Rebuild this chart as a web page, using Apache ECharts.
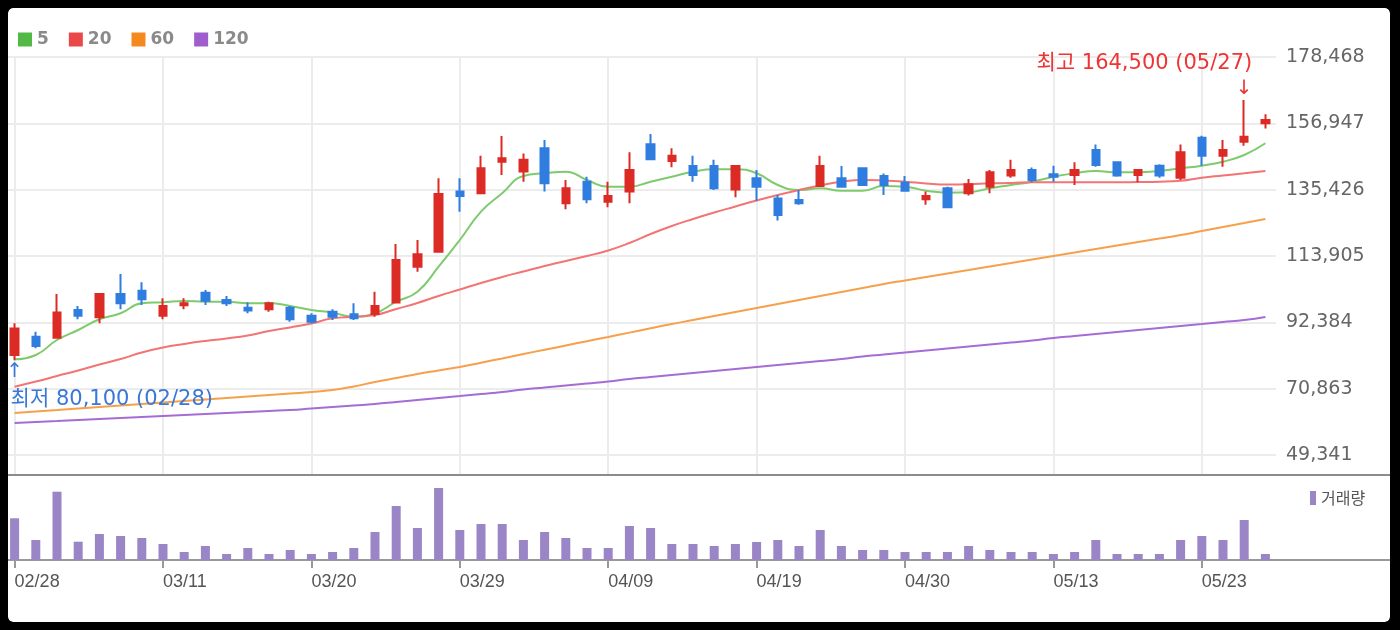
<!DOCTYPE html>
<html><head><meta charset="utf-8">
<script src="https://cdn.jsdelivr.net/npm/echarts@6/dist/echarts.min.js"></script>
<style>
html,body{margin:0;padding:0;background:#000;overflow:hidden;}
#wrap{position:absolute;left:0;top:0;width:1400px;height:630px;overflow:hidden;background:#000;}
#panel{position:absolute;left:8px;top:8px;width:1382px;height:614px;background:#fff;border-radius:5px;}
#chart{position:absolute;left:0;top:0;width:1400px;height:630px;}
#frame{position:absolute;left:8px;top:8px;width:1382px;height:614px;border-radius:5px;box-shadow:0 0 0 40px #000;pointer-events:none;}
</style></head>
<body><div id="wrap"><div id="panel"></div><div id="chart"></div><div id="frame"></div></div>
<script>
const dates = ['02/28','02/29','03/04','03/05','03/06','03/07','03/08','03/11','03/12','03/13','03/14','03/15','03/18','03/19','03/20','03/21','03/22','03/25','03/26','03/27','03/28','03/29','04/01','04/02','04/03','04/04','04/05','04/08','04/09','04/11','04/12','04/15','04/16','04/17','04/18','04/19','04/22','04/23','04/24','04/25','04/26','04/29','04/30','05/02','05/03','05/07','05/08','05/09','05/10','05/13','05/14','05/16','05/17','05/20','05/21','05/22','05/23','05/24','05/27','05/28'];
const opens  = [81800,87700,87400,96400,94000,101600,102600,94500,97900,102000,99600,97100,96600,97100,94500,95800,95000,95100,98800,110400,115300,134800,134300,144500,141300,148900,131000,138000,131500,134800,150200,144700,143100,143100,135500,139100,132600,132100,136600,139100,142400,139900,137700,132300,135900,134300,136400,140000,141800,140400,140200,148300,144300,140200,143200,139300,152300,146400,151000,157000];
const closes = [90400,84700,95600,94500,101600,98600,99900,97700,98600,99400,98600,96200,98600,93400,92600,94200,93700,97700,112600,114500,134000,133400,142400,145600,145100,137500,135900,132300,133400,141800,145300,146400,140200,135900,143100,136400,127200,131000,143100,136400,136900,136900,135100,133400,129700,137200,141100,141800,138600,139600,141800,143400,140000,141800,140000,147600,146400,148300,152600,158000];
const lows   = [80100,84000,87200,93400,92100,96600,98000,93400,96600,98000,97700,95300,95800,92600,92100,93100,93100,94200,98600,108800,115300,128300,134000,140200,138000,134800,129100,131000,129700,131000,145300,142700,138000,135300,133000,131800,125400,130500,136400,136400,136900,133700,134800,130500,129700,133500,134300,139300,137800,138000,136900,142900,139600,137800,139300,138600,143200,142900,149700,155300];
const highs  = [92100,89300,101600,97700,101900,108100,105400,100200,100200,102900,100900,98900,99100,97700,95300,96600,98600,102300,117800,119100,139100,139100,146400,152800,147200,151500,138600,139600,138000,147600,153500,148900,146400,145100,143100,141800,133700,135300,146400,143100,142400,140700,139900,134800,136400,138900,141800,145100,142600,143200,144300,150100,144600,141800,143700,150100,152900,151500,164500,159900];
const volumes = [4170000,2000000,6830000,1830000,2600000,2400000,2200000,1600000,800000,1400000,600000,1200000,600000,1000000,600000,800000,1200000,2800000,5400000,3200000,7200000,3000000,3600000,3600000,2000000,2800000,2200000,1200000,1200000,3400000,3200000,1600000,1600000,1400000,1600000,1800000,2000000,1400000,3000000,1400000,1000000,1000000,800000,800000,800000,1400000,1000000,800000,800000,600000,800000,2000000,600000,600000,600000,2000000,2400000,2000000,4000000,600000];
const ma5   = [80390,81790,86650,89900,93370,95320,98560,98890,99310,99080,99080,98560,98560,97680,96390,95510,94210,95320,99080,102320,110440,119100,128280,134250,139860,140740,141260,138570,136390,136390,138010,139640,141260,142040,142040,140740,136940,135320,135870,135090,135090,136620,136390,135090,134440,134570,135870,136940,138010,139640,140740,141490,141060,141060,141490,142360,143200,144500,146680,150470];
const ma20  = [71500,73190,74970,76760,78700,80490,82600,84220,85360,86330,87140,88110,89570,90710,92010,93690,94210,94760,96710,98660,100930,103040,105150,107090,108880,110660,112280,113910,115690,118120,121040,123640,125910,128020,129970,131910,133700,135320,136780,138010,138570,138400,138010,137430,137110,137170,137490,137590,137820,137820,137820,137820,137820,137920,138010,138340,139310,140030,140740,141490];
const ma60  = [62970,63460,63940,64430,64920,65400,65890,66380,66860,67350,67840,68320,68810,69300,69780,70430,71570,73030,74320,75620,76760,77890,79290,80680,82110,83470,84870,86260,87630,89050,90450,91840,93140,94440,95740,97040,98330,99630,100930,102230,103520,104820,105960,107090,108230,109360,110500,111640,112770,113910,115040,116180,117310,118450,119580,120720,122020,123320,124610,125910];
const ma120 = [59720,60050,60370,60700,61020,61350,61670,62000,62320,62640,62970,63290,63620,63940,64430,64920,65400,65890,66540,67190,67840,68480,69130,69780,70590,71240,71890,72540,73190,74000,74650,75300,75950,76600,77240,77890,78540,79190,79840,80490,81300,81950,82600,83250,83900,84540,85190,85840,86490,87300,87950,88600,89250,89900,90550,91200,91840,92490,93140,94120];
const priceTicks = [49341,70863,92384,113905,135426,156947,178468];
const tickDates = ['02/28','03/11','03/20','03/29','04/09','04/19','04/30','05/13','05/23'];
const maNames = ['5','20','60','120'];
const volName = '거래량';

const fmt = v => v.toLocaleString('en-US');
let hi = 0, lo = 0;
highs.forEach((v,i)=>{ if (v > highs[hi]) hi = i; });
lows.forEach((v,i)=>{ if (v < lows[lo]) lo = i; });

const LAT = '"DejaVu Sans", "Noto Sans CJK KR", sans-serif';
const lineCol = ['#7dcb6c','#f27474','#f7a04c','#a66cd6'];
const legCol  = ['#52b846','#ea4848','#f48a1f','#a05ecd'];
const maData = [ma5, ma20, ma60, ma120];
const UP = '#dc2b24', DOWN = '#2f7ddf';

const chart = echarts.init(document.getElementById('chart'), null, {renderer:'canvas'});
const option = {
  animation: false,
  backgroundColor: 'transparent',
  legend: [
    { data: maNames.map((n,i)=>({name:n, itemStyle:{color:legCol[i]}})), left: 18, top: 31, padding: 0, icon: 'rect', itemWidth: 14, itemHeight: 14, itemGap: 20, selectedMode: false,
      textStyle: {color:'#8a8a8a', fontWeight:'bold', fontSize:17, fontFamily:'"DejaVu Sans", sans-serif'} },
    { data: [volName], left: 1310, top: 490, padding: 0, icon: 'rect', itemWidth: 6, itemHeight: 14, itemGap: 5, selectedMode: false,
      textStyle: {color:'#555', fontSize:16, fontFamily:'"Noto Sans CJK KR", sans-serif'} }
  ],
  grid: [
    { left: 4, width: 1272, top: 57, height: 418 },
    { left: 4, width: 1272, top: 475, height: 85 },
    { left: 8, right: 10, top: 475, height: 85 }
  ],
  xAxis: [
    { type:'category', gridIndex:0, data: dates, boundaryGap: true, axisLine:{show:false}, axisTick:{show:false}, axisLabel:{show:false}, splitLine:{show:false} },
    { type:'category', gridIndex:1, data: dates, boundaryGap: true, axisLine:{show:false},
      axisTick:{show:true, alignWithLabel:true, length:8, interval:(i,v)=>tickDates.includes(v), lineStyle:{color:'#999', width:2}},
      axisLabel:{show:true, interval:(i,v)=>tickDates.includes(v), align:'left', margin:13, color:'#555', fontSize:18, fontFamily:'"Liberation Sans", Arial, sans-serif'},
      splitLine:{show:false} },
    { type:'value', gridIndex:2, position:'bottom', axisLine:{show:true, onZero:false, lineStyle:{color:'#999', width:2}}, axisTick:{show:false}, axisLabel:{show:false}, splitLine:{show:false} },
    { type:'value', gridIndex:2, position:'top', axisLine:{show:true, onZero:false, lineStyle:{color:'#8c8c8c', width:2}}, axisTick:{show:false}, axisLabel:{show:false}, splitLine:{show:false} }
  ],
  yAxis: [
    { type:'value', gridIndex:0, position:'right', min: 42852, max: 178468, scale: true,
      axisLine:{show:false},
      axisTick:{show:false, customValues: priceTicks},
      axisLabel:{show:true, customValues: priceTicks, formatter: v => fmt(Math.round(v)), color:'#666', fontSize:19, margin:10, fontFamily:LAT},
      splitLine:{show:true, lineStyle:{color:'#ececec', width:2}} },
    { type:'value', gridIndex:1, min:0, max:8500000, show:false },
    { type:'value', gridIndex:2, show:false }
  ],
  series: [
    { name:'grid', type:'line', xAxisIndex:0, yAxisIndex:0, data:[], z:0, zlevel:0, silent:true,
      markLine:{ silent:true, z:0, symbol:['none','none'], label:{show:false}, animation:false,
        lineStyle:{color:'#ececec', width:2, type:'solid'},
        data: tickDates.map(d=>({xAxis:d})) } },
    { name:'candle', type:'candlestick', xAxisIndex:0, yAxisIndex:0, barWidth:8, z:4,
      data: dates.map((d,i)=>[opens[i], closes[i], lows[i], highs[i]]),
      itemStyle:{color:UP, color0:DOWN, borderColor:UP, borderColor0:DOWN, borderWidth:2},
      markPoint:{ symbol:'circle', symbolSize:1, itemStyle:{color:'rgba(0,0,0,0)'}, animation:false,
        data:[
          { coord:[dates[hi], highs[hi]], label:{show:true, position:'top', distance:1, formatter:'↓', color:'#ee3434', fontSize:20, fontFamily:LAT} },
          { coord:[dates[hi], highs[hi]], label:{show:true, position:'top', distance:26, align:'right', offset:[8,0], formatter:'최고 '+fmt(highs[hi])+' ('+dates[hi]+')', color:'#ee3434', fontSize:21, fontFamily:LAT} },
          { coord:[dates[lo], lows[lo]], label:{show:true, position:'bottom', distance:1, formatter:'↑', color:'#3a78d8', fontSize:20, fontFamily:LAT} },
          { coord:[dates[lo], lows[lo]], label:{show:true, position:'bottom', distance:28, align:'left', offset:[-4,0], formatter:'최저 '+fmt(lows[lo])+' ('+dates[lo]+')', color:'#3a78d8', fontSize:21, fontFamily:LAT} }
        ] } },
    ...maNames.map((n,i)=>({ name:n, type:'line', xAxisIndex:0, yAxisIndex:0, data: maData[i], smooth:true, symbol:'none', z:2,
      itemStyle:{color:legCol[i]}, lineStyle:{color:lineCol[i], width:2} })),
    { name:volName, type:'bar', xAxisIndex:1, yAxisIndex:1, data: volumes, barWidth:9, itemStyle:{color:'#9a85c6'} }
  ]
};
chart.setOption(option);
</script>
</body></html>
